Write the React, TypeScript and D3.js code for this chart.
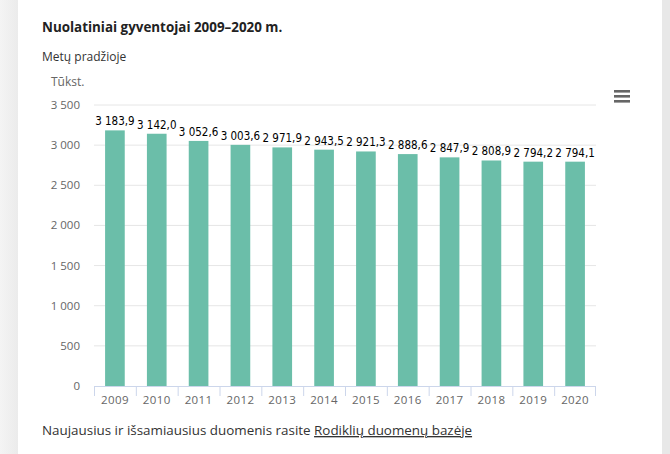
import React from "react";
import * as d3 from "d3";

const years = ["2009","2010","2011","2012","2013","2014","2015","2016","2017","2018","2019","2020"];
const values = [3183.9, 3142.0, 3052.6, 3003.6, 2971.9, 2943.5, 2921.3, 2888.6, 2847.9, 2808.9, 2794.2, 2794.1];
const yTicks = [0, 500, 1000, 1500, 2000, 2500, 3000, 3500];

const title = "Nuolatiniai gyventojai 2009–2020 m.";
const subtitle = "Metų pradžioje";
const unit = "Tūkst.";
const footerText = "Naujausius ir išsamiausius duomenis rasite ";
const footerLink = "Rodiklių duomenų bazėje";

const W = 670, H = 454;
const left = 94, right = 596, top = 105, bottom = 386;

const locale = d3.formatLocale({ decimal: ",", thousands: " ", grouping: [3], currency: ["", ""] });
const fmtTick = locale.format(",.0f");
const fmtVal = locale.format(",.1f");

export default function App() {
  const x = d3.scaleBand().domain(years).range([left, right]).paddingInner(0.53).paddingOuter(0.265);
  const band = d3.scaleBand().domain(years).range([left, right]);
  const y = d3.scaleLinear().domain([0, 3500]).range([bottom, top]);
  const sans = "'Open Sans', sans-serif";
  return (
    <svg width={W} height={H} style={{ position: "fixed", left: 0, top: 0, background: "#fff" }} xmlns="http://www.w3.org/2000/svg">
      <defs>
        <linearGradient id="lg" x1="0" x2="1" y1="0" y2="0">
          <stop offset="0" stopColor="#f4f4f4" />
          <stop offset="1" stopColor="#ebebeb" />
        </linearGradient>
      </defs>
      <rect x={0} y={0} width={18} height={H} fill="url(#lg)" />
      <rect x={662} y={0} width={8} height={H} fill="#e8e8e8" />
      <text x={42} y={32} fontFamily={sans} fontWeight={700} fontSize={13.4} fill="#222">{title}</text>
      <text x={42} y={61} fontFamily={sans} fontSize={12} fill="#333">{subtitle}</text>
      <text x={51} y={86} fontFamily={sans} fontSize={12} fill="#666">{unit}</text>
      {/* menu icon */}
      <g fill="#666">
        <rect x={614} y={90} width={16} height={2.6} />
        <rect x={614} y={95} width={16} height={2.6} />
        <rect x={614} y={100} width={16} height={2.6} />
      </g>
      {yTicks.map((t) => (
        <g key={t}>
          {t > 0 && <line x1={left} x2={right} y1={y(t)} y2={y(t)} stroke="#e6e6e6" strokeWidth={1} />}
          <text x={80} y={y(t) + 4} textAnchor="end" fontFamily={sans} fontSize={11.5} fill="#666">{fmtTick(t)}</text>
        </g>
      ))}
      {years.map((yr, i) => (
        <rect key={yr} x={x(yr)} y={y(values[i])} width={x.bandwidth()} height={y(0) - y(values[i])} fill="#6bbea9" />
      ))}
      <line x1={left} x2={right} y1={bottom + 0.5} y2={bottom + 0.5} stroke="#ccd6eb" strokeWidth={1} />
      {years.map((yr) => (
        <line key={"t" + yr} x1={band(yr)! + 0.5} x2={band(yr)! + 0.5} y1={bottom} y2={bottom + 10} stroke="#ccd6eb" />
      ))}
      <line x1={right - 0.5} x2={right - 0.5} y1={bottom} y2={bottom + 10} stroke="#ccd6eb" />
      {years.map((yr) => (
        <text key={"l" + yr} x={band(yr)! + band.bandwidth() / 2} y={404} textAnchor="middle" fontFamily={sans} fontSize={11.5} letterSpacing={0.4} fill="#666">{yr}</text>
      ))}
      {years.map((yr, i) => (
        <text key={"v" + yr} x={x(yr)! + x.bandwidth() / 2} y={y(values[i]) - 5} textAnchor="middle" fontFamily="'DejaVu Sans Condensed', 'DejaVu Sans', sans-serif" fontStretch="condensed" fontSize={11.5} fill="#000">{fmtVal(values[i])}</text>
      ))}
      <text x={42} y={435} fontFamily={sans} fontSize={13.4} fill="#333">
        {footerText}
        <tspan textDecoration="underline">{footerLink}</tspan>
      </text>
    </svg>
  );
}
